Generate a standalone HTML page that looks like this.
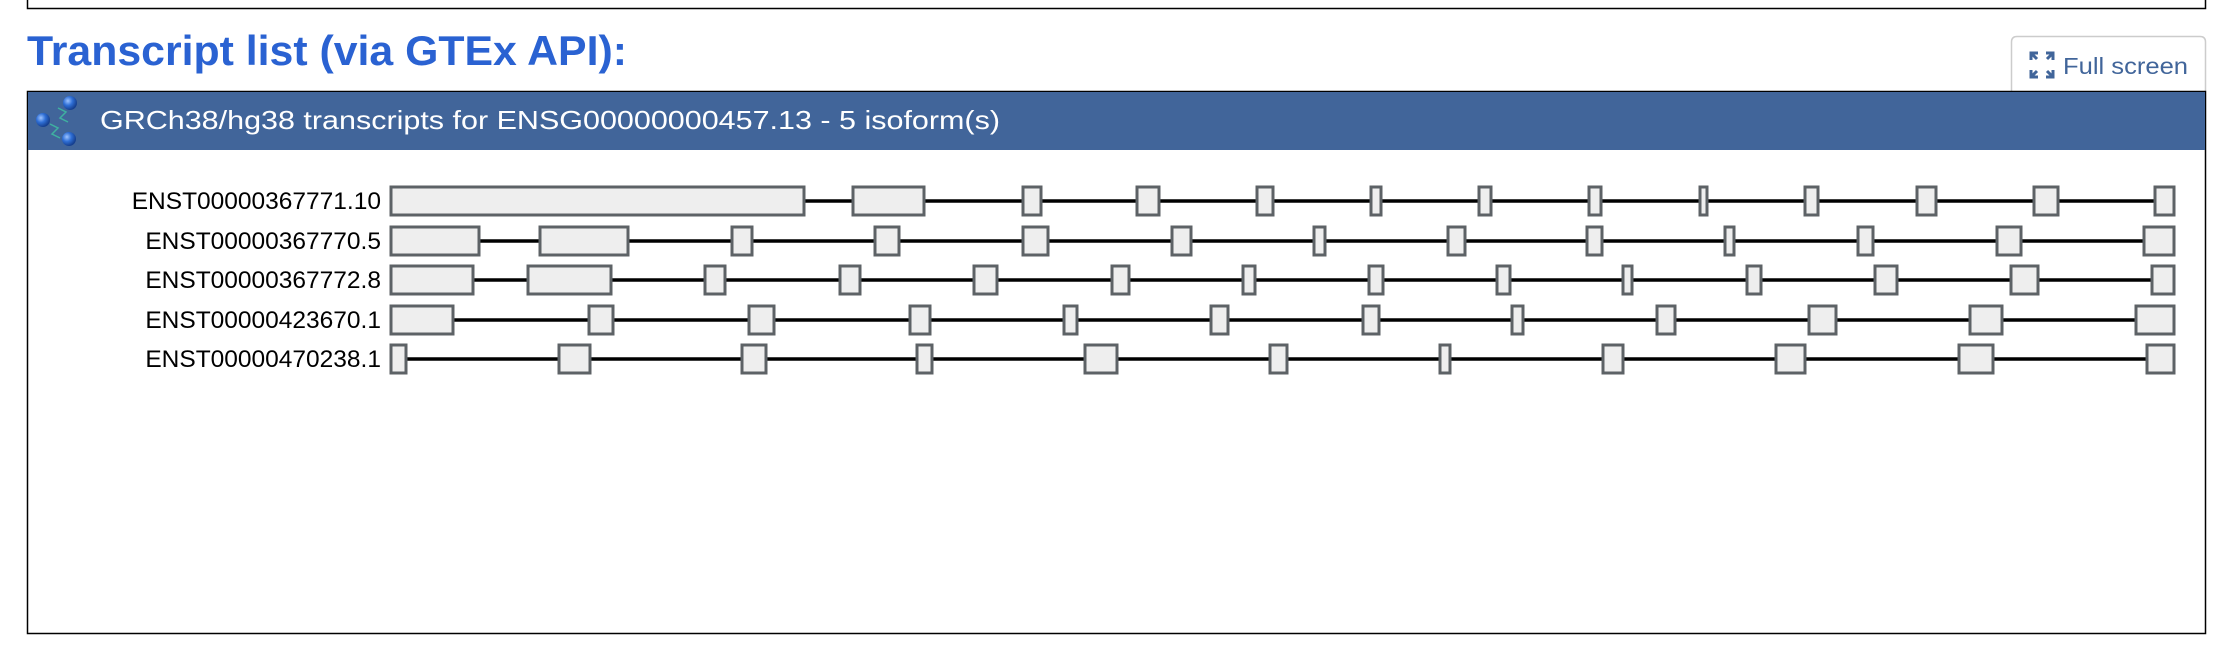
<!DOCTYPE html>
<html><head><meta charset="utf-8">
<style>
html,body{margin:0;padding:0;background:#fff;width:2232px;height:648px;overflow:hidden;font-family:"Liberation Sans",sans-serif;}
svg{position:absolute;left:0;top:0;}
</style></head><body>
<svg width="2232" height="648" viewBox="0 0 2232 648" xmlns="http://www.w3.org/2000/svg">
<defs>
<radialGradient id="b" cx="35%" cy="35%" r="65%"><stop offset="0" stop-color="#9ec4ff"/><stop offset="0.5" stop-color="#2f6fd6"/><stop offset="1" stop-color="#16408f"/></radialGradient>
</defs>
<path d="M27.5 0 V8.5 H2205.5 V0" fill="none" stroke="#000" stroke-width="1.5"/>
<text x="27" y="65" font-size="42" font-weight="bold" fill="#2a62d2" textLength="600" lengthAdjust="spacingAndGlyphs">Transcript list (via GTEx API):</text>
<path d="M2011.5 91 V42 Q2011.5 36.5 2017 36.5 H2200 Q2205.5 36.5 2205.5 42 V91" fill="#fff" stroke="#ccc" stroke-width="1.5"/>
<g stroke="#41659a" stroke-width="3" fill="none">
<path d="M2031 60 v-7 h7 M2031 53 l6 6"/><path d="M2053 60 v-7 h-7 M2053 53 l-6 6"/>
<path d="M2031 70 v7 h7 M2031 77 l6 -6"/><path d="M2053 70 v7 h-7 M2053 77 l-6 -6"/>
</g>
<text x="2063" y="74" font-size="23" fill="#41659a" textLength="125" lengthAdjust="spacingAndGlyphs">Full screen</text>
<rect x="27.5" y="91.5" width="2178" height="542" fill="#fff" stroke="#000" stroke-width="1.5"/>
<rect x="28" y="92" width="2177" height="58" fill="#41659a"/>
<path d="M58 108 l8 4 -6 6 8 4 M50 124 l8 4 -6 6 8 4" stroke="#3fb0a0" stroke-width="1.5" fill="none"/>
<circle cx="70" cy="103" r="7" fill="url(#b)"/>
<circle cx="43" cy="120" r="7" fill="url(#b)"/>
<circle cx="69" cy="139" r="7" fill="url(#b)"/>
<text x="100" y="129" font-size="26" fill="#fff" textLength="900" lengthAdjust="spacingAndGlyphs">GRCh38/hg38 transcripts for ENSG00000000457.13 - 5 isoform(s)</text>
<g font-size="24.5" fill="#000" text-anchor="end">
<text x="381" y="209">ENST00000367771.10</text>
<text x="381" y="249">ENST00000367770.5</text>
<text x="381" y="288">ENST00000367772.8</text>
<text x="381" y="328">ENST00000423670.1</text>
<text x="381" y="367">ENST00000470238.1</text>
</g>
<g stroke="#000" stroke-width="3.5">
<line x1="391" y1="201" x2="2174" y2="201"/>
<line x1="391" y1="241" x2="2174" y2="241"/>
<line x1="391" y1="280" x2="2174" y2="280"/>
<line x1="391" y1="320" x2="2174" y2="320"/>
<line x1="391" y1="359" x2="2174" y2="359"/>
</g>
<g fill="#eee" stroke="#5d6266" stroke-width="3">
<g transform="translate(0,187)">
<rect x="391" y="0" width="413" height="28"/><rect x="853" y="0" width="71" height="28"/><rect x="1023" y="0" width="18" height="28"/>
<rect x="1137" y="0" width="22" height="28"/><rect x="1257" y="0" width="16" height="28"/><rect x="1371" y="0" width="10" height="28"/>
<rect x="1479" y="0" width="12" height="28"/><rect x="1589" y="0" width="12" height="28"/><rect x="1700" y="0" width="7" height="28"/>
<rect x="1805" y="0" width="13" height="28"/><rect x="1917" y="0" width="19" height="28"/><rect x="2034" y="0" width="24" height="28"/><rect x="2155" y="0" width="19" height="28"/>
</g>
<g transform="translate(0,227)">
<rect x="391" y="0" width="88" height="28"/><rect x="540" y="0" width="88" height="28"/><rect x="732" y="0" width="20" height="28"/>
<rect x="875" y="0" width="24" height="28"/><rect x="1023" y="0" width="25" height="28"/><rect x="1172" y="0" width="19" height="28"/>
<rect x="1314" y="0" width="11" height="28"/><rect x="1448" y="0" width="17" height="28"/><rect x="1587" y="0" width="15" height="28"/>
<rect x="1725" y="0" width="9" height="28"/><rect x="1858" y="0" width="15" height="28"/><rect x="1997" y="0" width="24" height="28"/><rect x="2144" y="0" width="30" height="28"/>
</g>
<g transform="translate(0,266)">
<rect x="391" y="0" width="82" height="28"/><rect x="528" y="0" width="83" height="28"/><rect x="705" y="0" width="20" height="28"/>
<rect x="840" y="0" width="20" height="28"/><rect x="974" y="0" width="23" height="28"/><rect x="1112" y="0" width="17" height="28"/>
<rect x="1243" y="0" width="12" height="28"/><rect x="1369" y="0" width="14" height="28"/><rect x="1497" y="0" width="13" height="28"/>
<rect x="1623" y="0" width="9" height="28"/><rect x="1747" y="0" width="14" height="28"/><rect x="1875" y="0" width="22" height="28"/><rect x="2011" y="0" width="27" height="28"/><rect x="2152" y="0" width="22" height="28"/>
</g>
<g transform="translate(0,306)">
<rect x="391" y="0" width="62" height="28"/><rect x="589" y="0" width="24" height="28"/><rect x="749" y="0" width="25" height="28"/>
<rect x="910" y="0" width="20" height="28"/><rect x="1064" y="0" width="13" height="28"/><rect x="1211" y="0" width="17" height="28"/>
<rect x="1363" y="0" width="16" height="28"/><rect x="1512" y="0" width="11" height="28"/><rect x="1657" y="0" width="18" height="28"/>
<rect x="1809" y="0" width="27" height="28"/><rect x="1970" y="0" width="32" height="28"/><rect x="2136" y="0" width="38" height="28"/>
</g>
<g transform="translate(0,345)">
<rect x="391" y="0" width="15" height="28"/><rect x="559" y="0" width="31" height="28"/><rect x="742" y="0" width="24" height="28"/>
<rect x="917" y="0" width="15" height="28"/><rect x="1085" y="0" width="32" height="28"/><rect x="1270" y="0" width="17" height="28"/>
<rect x="1440" y="0" width="10" height="28"/><rect x="1603" y="0" width="20" height="28"/><rect x="1776" y="0" width="29" height="28"/>
<rect x="1959" y="0" width="34" height="28"/><rect x="2147" y="0" width="27" height="28"/>
</g>
</g>
</svg>
</body></html>
